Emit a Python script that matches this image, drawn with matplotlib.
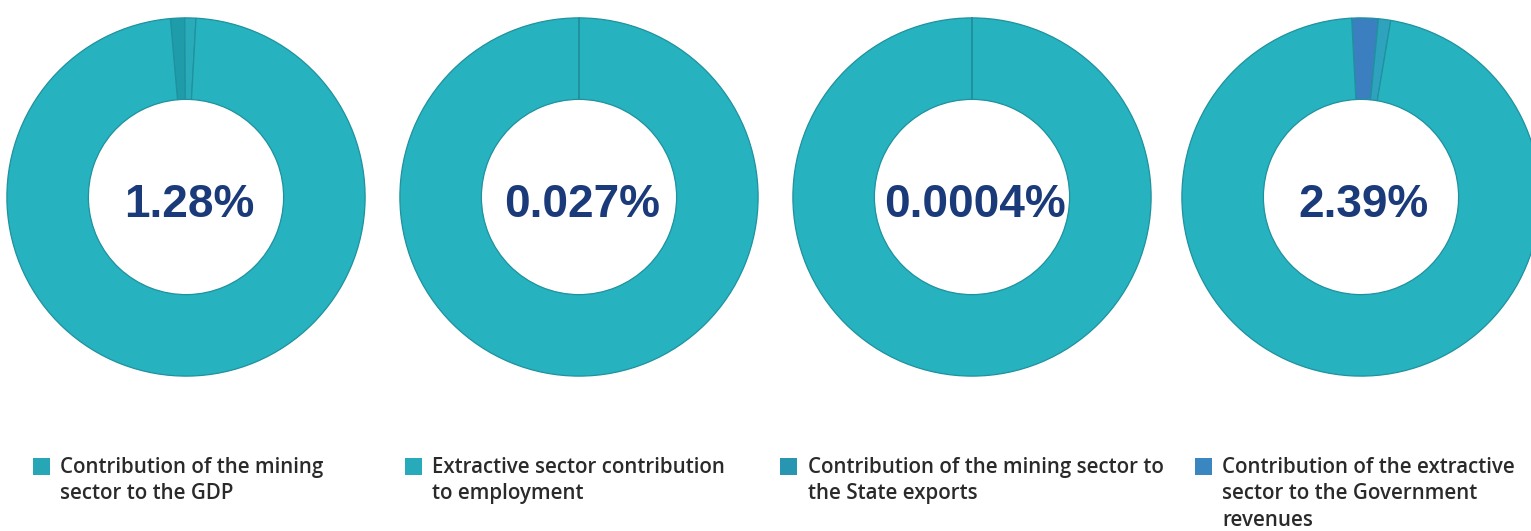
import matplotlib
matplotlib.use("Agg")
import matplotlib.pyplot as plt
from matplotlib.patches import Rectangle

W, H = 1531, 531

# ---- data ----
center_labels = ["1.28%", "0.027%", "0.0004%", "2.39%"]
small_share = [1.28, 0.027, 0.0004, 2.39]      # highlighted slice (%)
extra_share = [1.0, 0.0, 0.0, 1.1]             # thin neighbouring slice (%)
legend_labels = [
    "Contribution of the mining\nsector to the GDP",
    "Extractive sector contribution\nto employment",
    "Contribution of the mining sector to\nthe State exports",
    "Contribution of the extractive\nsector to the Government\nrevenues",
]

# ---- styling ----
main_color = "#27B2BF"
small_colors = ["#1F9CAA", "#1F97A6", "#1F97A6", "#3C7FC0"]
extra_colors = ["#2AABBA", "#2AABBA", "#2AABBA", "#2FA2BE"]
legend_colors = ["#27A7B6", "#27ABBA", "#2896B0", "#3A86C0"]
edge_color = "#1E929E"
text_color = "#1B3A7A"

centers_x = [186, 579, 972, 1361]
center_y = 197
radius = 180
start_offsets = [5.0, 0.0, 0.0, 3.0]  # degrees left of top where slices start

fig = plt.figure(figsize=(W / 100, H / 100), dpi=100)
fig.patch.set_facecolor("white")

for i in range(4):
    cx = centers_x[i]
    ax = fig.add_axes([(cx - radius) / W, (H - center_y - radius) / H,
                       2 * radius / W, 2 * radius / H])
    vals = [small_share[i], extra_share[i], 100 - small_share[i] - extra_share[i]]
    cols = [small_colors[i], extra_colors[i], main_color]
    ax.pie(vals, colors=cols, startangle=90 + start_offsets[i], counterclock=False,
           radius=1, wedgeprops=dict(width=0.455, edgecolor=edge_color, linewidth=0.9))
    ax.set_xlim(-1.005, 1.005)
    ax.set_ylim(-1.005, 1.005)
    ax.set_aspect("equal")
    ax.axis("off")
    fig.text((cx + 3) / W, 1 - 205 / H, center_labels[i], ha="center", va="center",
             fontsize=33, fontweight="bold", color=text_color,
             family=["Liberation Sans", "DejaVu Sans"])

sq_x = [33, 405, 780, 1195]
txt_x = [60, 432, 808, 1222]
for i in range(4):
    fig.patches.append(Rectangle((sq_x[i] / W, 1 - 475 / H), 17 / W, 17 / H,
                                 transform=fig.transFigure, facecolor=legend_colors[i],
                                 edgecolor="none"))
    fig.text(txt_x[i] / W, 1 - 457 / H, legend_labels[i], ha="left", va="top",
             fontsize=14.8, color="#2A2A2A", linespacing=1.33, fontweight="semibold",
             family=["Open Sans", "DejaVu Sans"])

fig.savefig("out.png", dpi=100, facecolor="white")
